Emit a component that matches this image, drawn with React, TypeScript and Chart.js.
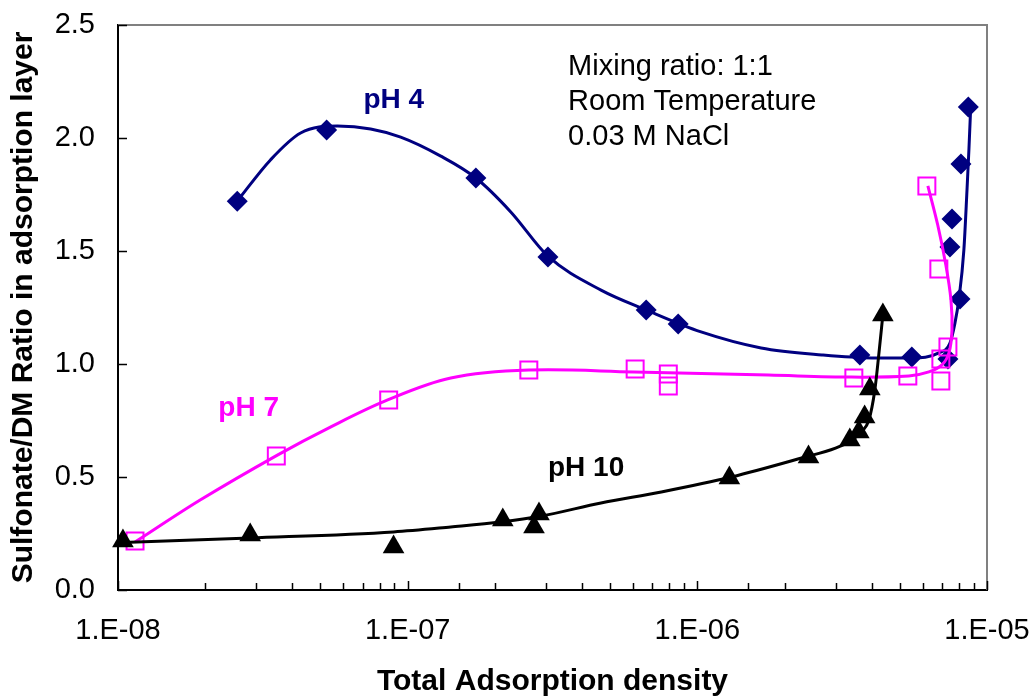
import React, { useEffect, useRef } from 'react';
import { Chart, registerables } from 'chart.js';

Chart.register(...registerables);

const FONT = "'Liberation Sans', Arial, Helvetica, sans-serif";
const NAVY = '#000080';
const MAGENTA = '#FF00FF';
const BLACK = '#000000';

// Axis tick labels
const xTickLabels = ['1.E-08', '1.E-07', '1.E-06', '1.E-05'];
const yTickLabels = ['0.0', '0.5', '1.0', '1.5', '2.0', '2.5'];

// pH 4 measured points
const ph4X = [2.58e-8, 5.25e-8, 1.72e-7, 3.05e-7, 6.66e-7, 8.59e-7, 3.64e-6, 5.5e-6, 7.33e-6, 7.45e-6, 7.57e-6, 8.07e-6, 8.13e-6, 8.62e-6];
const ph4Y = [1.72, 2.035, 1.823, 1.473, 1.239, 1.177, 1.04, 1.031, 1.022, 1.518, 1.642, 1.288, 1.885, 2.137];
// pH 4 smoothed trend curve
const ph4FitX = [2.58e-8, 3.36e-8, 4.27e-8, 5.72e-8, 7.45e-8, 9.46e-8, 1.301e-7, 1.72e-7, 2.27e-7, 3.05e-7, 4.65e-7, 6.66e-7, 1.03e-6, 1.66e-6, 2.69e-6, 4.0e-6, 5.5e-6, 6.82e-6, 7.45e-6, 7.75e-6, 8.0e-6, 8.32e-6, 8.53e-6, 8.66e-6, 8.78e-6];
const ph4FitY = [1.721, 1.903, 2.022, 2.053, 2.04, 2.004, 1.92, 1.823, 1.673, 1.477, 1.327, 1.239, 1.142, 1.071, 1.04, 1.027, 1.027, 1.049, 1.093, 1.181, 1.288, 1.504, 1.77, 1.947, 2.13];

// pH 7 measured points
const ph7X = [1.145e-8, 3.52e-8, 8.6e-8, 2.62e-7, 6.1e-7, 7.94e-7, 7.94e-7, 3.47e-6, 5.33e-6, 6.93e-6, 6.93e-6, 7.33e-6, 6.82e-6, 6.2e-6];
const ph7Y = [0.217, 0.593, 0.841, 0.973, 0.978, 0.956, 0.903, 0.938, 0.947, 0.925, 1.022, 1.075, 1.42, 1.788];
// pH 7 smoothed trend curve
const ph7FitX = [1.145e-8, 1.921e-8, 3.55e-8, 5.41e-8, 8.53e-8, 1.409e-7, 2.62e-7, 6.05e-7, 1.761e-6, 3.41e-6, 5.37e-6, 6.3e-6, 6.99e-6, 7.39e-6, 7.57e-6, 7.51e-6, 7.21e-6, 6.76e-6, 6.25e-6];
const ph7FitY = [0.212, 0.398, 0.597, 0.721, 0.841, 0.938, 0.973, 0.965, 0.951, 0.942, 0.947, 0.965, 0.996, 1.049, 1.15, 1.283, 1.438, 1.615, 1.788];

// pH 10 measured points
const ph10X = [1.04e-8, 2.86e-8, 8.94e-8, 2.13e-7, 2.84e-7, 2.73e-7, 1.29e-6, 2.42e-6, 3.36e-6, 3.61e-6, 3.78e-6, 3.94e-6, 4.37e-6];
const ph10Y = [0.217, 0.243, 0.19, 0.31, 0.336, 0.279, 0.496, 0.588, 0.664, 0.699, 0.765, 0.889, 1.217];
// pH 10 smoothed trend curve
const ph10FitX = [1.04e-8, 2.862e-8, 8.94e-8, 1.409e-7, 2.098e-7, 2.886e-7, 4.65e-7, 7.51e-7, 1.311e-6, 2.29e-6, 3.0e-6, 3.4e-6, 3.69e-6, 3.91e-6, 4.1e-6, 4.23e-6, 4.37e-6];
const ph10FitY = [0.21, 0.23, 0.257, 0.279, 0.301, 0.327, 0.385, 0.434, 0.5, 0.584, 0.628, 0.662, 0.7, 0.752, 0.885, 1.04, 1.217];

const seriesNames = ['pH 4', 'pH 7', 'pH 10'];
const noteLines = ['Mixing ratio: 1:1', 'Room Temperature', '0.03 M NaCl'];

const zip = (xs: number[], ys: number[]) => xs.map((x, i) => ({ x, y: ys[i] }));

const decorPlugin = {
  id: 'decor',
  beforeDatasetsDraw(chart: any) {
    const { ctx, chartArea: a, scales } = chart;
    ctx.save();
    ctx.strokeStyle = '#808080';
    ctx.lineWidth = 2;
    ctx.beginPath();
    ctx.moveTo(a.left, a.top);
    ctx.lineTo(a.right, a.top);
    ctx.lineTo(a.right, a.bottom);
    ctx.stroke();
    ctx.strokeStyle = '#000';
    ctx.lineWidth = 1.5;
    ctx.beginPath();
    for (const t of scales.y.ticks) {
      const y = Math.round(scales.y.getPixelForValue(t.value)) + 0.5;
      ctx.moveTo(a.left, y);
      ctx.lineTo(a.left + 9, y);
    }
    for (const t of scales.x.ticks) {
      const lg = Math.log10(t.value);
      const major = Math.abs(lg - Math.round(lg)) < 1e-6;
      const x = Math.round(scales.x.getPixelForValue(t.value)) + 0.5;
      ctx.moveTo(x, a.bottom);
      ctx.lineTo(x, a.bottom - (major ? 9 : 7));
    }
    ctx.stroke();
    ctx.restore();
  },
  afterDraw(chart: any) {
    const { ctx, scales } = chart;
    const px = (v: number) => scales.x.getPixelForValue(v);
    const py = (v: number) => scales.y.getPixelForValue(v);
    ctx.save();
    ctx.textAlign = 'left';
    ctx.textBaseline = 'alphabetic';
    ctx.font = `bold 28px ${FONT}`;
    ctx.fillStyle = NAVY;
    ctx.fillText(seriesNames[0], px(7.04e-8), py(2.133));
    ctx.fillStyle = MAGENTA;
    ctx.fillText(seriesNames[1], px(2.22e-8), py(0.77));
    ctx.fillStyle = BLACK;
    ctx.fillText(seriesNames[2], px(3.05e-7), py(0.504));
    ctx.font = `29px ${FONT}`;
    ctx.fillStyle = '#000';
    const nx = px(3.58e-7);
    const ny = py(2.279);
    noteLines.forEach((s, i) => ctx.fillText(s, nx, ny + i * 35));
    ctx.restore();
  },
};

const zeroPad = (s: any) => {
  s.paddingTop = 0;
  s.paddingBottom = 0;
  s.paddingLeft = 0;
  s.paddingRight = 0;
};

export default function App() {
  const ref = useRef<HTMLCanvasElement | null>(null);
  useEffect(() => {
    if (!ref.current) return;
    Chart.defaults.font.family = FONT;
    Chart.defaults.color = '#000';
    const chart = new Chart(ref.current, {
      type: 'scatter',
      data: {
        datasets: [
          {
            label: 'pH 4 fit', data: zip(ph4FitX, ph4FitY), showLine: true, borderColor: NAVY, borderWidth: 3,
            pointRadius: 0, cubicInterpolationMode: 'monotone', order: 6, clip: false,
          } as any,
          {
            label: seriesNames[0], data: zip(ph4X, ph4Y), showLine: false, pointStyle: 'rectRot', pointRadius: 10.5,
            backgroundColor: NAVY, borderColor: NAVY, borderWidth: 0, order: 5, clip: false,
          } as any,
          {
            label: 'pH 7 fit', data: zip(ph7FitX, ph7FitY), showLine: true, borderColor: MAGENTA, borderWidth: 3,
            pointRadius: 0, tension: 0.35, order: 4, clip: false,
          } as any,
          {
            label: seriesNames[1], data: zip(ph7X, ph7Y), showLine: false, pointStyle: 'rect', pointRadius: 12,
            backgroundColor: 'rgba(0,0,0,0)', borderColor: MAGENTA, borderWidth: 2, order: 3, clip: false,
          } as any,
          {
            label: 'pH 10 fit', data: zip(ph10FitX, ph10FitY), showLine: true, borderColor: BLACK, borderWidth: 3,
            pointRadius: 0, cubicInterpolationMode: 'monotone', order: 2, clip: false,
          } as any,
          {
            label: seriesNames[2], data: zip(ph10X, ph10Y), showLine: false, pointStyle: 'triangle', pointRadius: 12.5,
            backgroundColor: BLACK, borderColor: BLACK, borderWidth: 0, order: 1, clip: false,
          } as any,
        ],
      },
      options: {
        responsive: false,
        animation: false,
        devicePixelRatio: 1,
        events: [],
        layout: { padding: { top: 25, right: 47, left: 0, bottom: 0 } },
        plugins: { legend: { display: false }, tooltip: { enabled: false } },
        scales: {
          x: {
            type: 'logarithmic',
            min: 1e-8,
            max: 1e-5,
            grid: { display: false, drawTicks: false },
            border: { display: true, color: '#000', width: 2 },
            ticks: {
              autoSkip: false,
              maxRotation: 0,
              minRotation: 0,
              padding: 24,
              font: { size: 29 },
              color: '#000',
              callback: (v: any) => {
                const lg = Math.log10(Number(v));
                if (Math.abs(lg - Math.round(lg)) < 1e-6) {
                  return xTickLabels[Math.round(lg) + 8] ?? '';
                }
                return '';
              },
            },
            title: {
              display: true,
              text: 'Total Adsorption density',
              font: { size: 30, weight: 'bold', lineHeight: 1.07 },
              color: '#000',
              padding: { top: 0, bottom: 0 },
            },
            afterFit: (s: any) => { s.height = 108; zeroPad(s); },
          },
          y: {
            type: 'linear',
            min: 0,
            max: 2.5,
            grid: { display: false, drawTicks: false },
            border: { display: true, color: '#000', width: 2 },
            ticks: {
              stepSize: 0.5,
              padding: 23,
              font: { size: 29 },
              color: '#000',
              callback: (_v: any, i: number) => yTickLabels[i],
            },
            title: {
              display: true,
              text: 'Sulfonate/DM Ratio in adsorption layer',
              font: { size: 30, weight: 'bold', lineHeight: 1.2 },
              color: '#000',
              padding: { top: 6, bottom: 0 },
            },
            afterFit: (s: any) => { s.width = 118; zeroPad(s); },
          },
        },
      } as any,
      plugins: [decorPlugin],
    });
    return () => chart.destroy();
  }, []);
  return (
    <div style={{ position: 'absolute', left: 0, top: 0, width: 1034, height: 698, background: '#fff' }}>
      <canvas ref={ref} width={1034} height={698} style={{ display: 'block' }} />
    </div>
  );
}
